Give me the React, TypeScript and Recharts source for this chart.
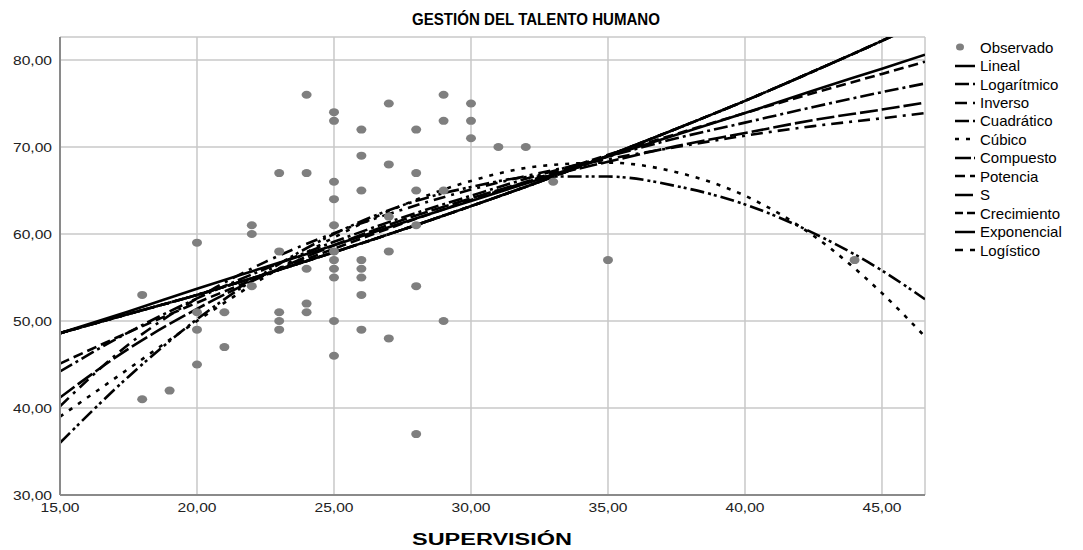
import React from "react";
import {
  ComposedChart,
  Scatter,
  Line,
  XAxis,
  YAxis,
  CartesianGrid,
} from "recharts";

// observed points (SUPERVISIÓN, GESTIÓN DEL TALENTO HUMANO)
const obsX = [
  18, 18, 19, 20, 20, 20, 20, 21, 21, 22, 22, 22,
  23, 23, 23, 23, 23, 24, 24, 24, 24, 24,
  25, 25, 25, 25, 25, 25, 25, 25, 25, 25, 25,
  26, 26, 26, 26, 26, 26, 26, 26,
  27, 27, 27, 27, 27, 28, 28, 28, 28, 28, 28,
  29, 29, 29, 29, 30, 30, 30, 31, 32, 33, 35, 44,
];
const obsY = [
  53, 41, 42, 59, 51, 49, 45, 51, 47, 61, 60, 54,
  67, 58, 51, 50, 49, 76, 67, 56, 52, 51,
  74, 73, 66, 64, 61, 58, 57, 56, 55, 50, 46,
  72, 69, 65, 57, 56, 55, 53, 49,
  75, 68, 62, 58, 48, 72, 67, 65, 61, 54, 37,
  76, 73, 65, 50, 75, 73, 71, 70, 70, 66, 57, 57,
];

// fitted curves at these x positions
const curveX = [15, 17.5, 20, 22.5, 25, 27.5, 30, 32.5, 35, 37.5, 40, 42.5, 45, 46.57];
const lineal = [48.6, 51.1, 53.7, 56.2, 58.7, 61.3, 63.8, 66.3, 68.9, 71.4, 73.9, 76.5, 79.0, 80.6];
const logaritmico = [44.2, 48.7, 52.6, 56.0, 59.1, 61.9, 64.4, 66.8, 68.9, 71.0, 72.8, 74.6, 76.3, 77.3];
const inverso = [40.2, 47.3, 52.6, 56.8, 60.1, 62.8, 65.1, 67.0, 68.6, 70.0, 71.3, 72.4, 73.3, 73.9];
const cuadratico = [36.0, 43.6, 50.2, 55.6, 60.0, 63.3, 65.4, 66.6, 66.6, 65.5, 63.4, 60.1, 55.8, 52.5];
const cubico = [39.0, 44.5, 50.0, 55.1, 59.6, 63.3, 66.1, 67.8, 68.2, 67.1, 64.4, 59.8, 53.2, 48.2];
const compuesto = [48.6, 50.8, 53.0, 55.4, 57.9, 60.5, 63.2, 66.0, 69.0, 72.1, 75.3, 78.7, 82.2, 84.5];
const potencia = [45.1, 48.7, 52.1, 55.3, 58.3, 61.2, 63.9, 66.5, 69.1, 71.5, 73.9, 76.2, 78.4, 79.8];
const sCurve = [41.2, 46.8, 51.4, 55.3, 58.7, 61.6, 64.1, 66.4, 68.3, 70.1, 71.6, 73.1, 74.3, 75.1];
const crecimiento = [48.6, 50.8, 53.0, 55.4, 57.9, 60.5, 63.2, 66.0, 69.0, 72.1, 75.3, 78.7, 82.2, 84.5];
const exponencial = [48.6, 50.8, 53.0, 55.4, 57.9, 60.5, 63.2, 66.0, 69.0, 72.1, 75.3, 78.7, 82.2, 84.5];
const logistico = [48.6, 50.8, 53.0, 55.4, 57.9, 60.5, 63.2, 66.0, 69.0, 72.1, 75.3, 78.7, 82.2, 84.5];

const xTicks = [15, 20, 25, 30, 35, 40, 45];
const yTicks = [30, 40, 50, 60, 70, 80];

const FONT = "'Liberation Sans', Arial, sans-serif";

const observado = obsX.map((x, i) => ({ x, y: obsY[i] }));
const curve = (ys: number[]) => curveX.map((x, i) => ({ x, y: ys[i] }));

const series = [
  { name: "Lineal", ys: lineal, dash: undefined },
  { name: "Logarítmico", ys: logaritmico, dash: "14 4 3 4" },
  { name: "Inverso", ys: inverso, dash: "12 6 3 6" },
  { name: "Cuadrático", ys: cuadratico, dash: "14 4 3 3 3 4" },
  { name: "Cúbico", ys: cubico, dash: "4 7" },
  { name: "Compuesto", ys: compuesto, dash: "16 3 3 3" },
  { name: "Potencia", ys: potencia, dash: "10 5" },
  { name: "S", ys: sCurve, dash: "18 4" },
  { name: "Crecimiento", ys: crecimiento, dash: "8 4 8 6 3 6" },
  { name: "Exponencial", ys: exponencial, dash: "20 3 3 3" },
  { name: "Logístico", ys: logistico, dash: "8 7" },
];

const fmt = (v: number) => v.toFixed(2).replace(".", ",");

const XTick = (props: any) => {
  const { x, y, payload } = props;
  return (
    <g transform={`translate(${x},${y})`}>
      <text transform="scale(1.2,1)" textAnchor="middle" dy="0.71em" fontSize={13} fill="#222" fontFamily={FONT}>
        {fmt(payload.value)}
      </text>
    </g>
  );
};

const YTick = (props: any) => {
  const { x, y, payload } = props;
  return (
    <g transform={`translate(${x},${y})`}>
      <text transform="scale(1.2,1)" textAnchor="end" dy="0.355em" fontSize={13} fill="#222" fontFamily={FONT}>
        {fmt(payload.value)}
      </text>
    </g>
  );
};

const Dot = (props: any) => (
  <ellipse cx={props.cx} cy={props.cy} rx={5} ry={4} fill="#7f7f7f" />
);

export default function App() {
  return (
    <div style={{ position: "absolute", left: 0, top: 0, width: 1083, height: 550, background: "#fff" }}>
      <ComposedChart
        width={1083}
        height={550}
        margin={{ top: 37, right: 158, bottom: 0, left: 0 }}
      >
        <CartesianGrid stroke="#c8c8c8" strokeWidth={1.5} />
        <XAxis
          dataKey="x"
          type="number"
          domain={[15, 46.57]}
          ticks={xTicks}
          allowDataOverflow
          height={55}
          tickLine={false}
          axisLine={{ stroke: "#8a8a8a", strokeWidth: 2 }}
          tick={<XTick />}
        />
        <YAxis
          type="number"
          domain={[30, 82.64]}
          ticks={yTicks}
          allowDataOverflow
          width={60}
          tickLine={false}
          axisLine={{ stroke: "#8a8a8a", strokeWidth: 2 }}
          tick={<YTick />}
        />
        <Scatter data={observado} dataKey="y" fill="#7f7f7f" shape={<Dot />} isAnimationActive={false} />
        {series.map((s) => (
          <Line
            key={s.name}
            data={curve(s.ys)}
            dataKey="y"
            type="monotone"
            stroke="#000"
            strokeWidth={2.6}
            strokeDasharray={s.dash}
            dot={false}
            activeDot={false}
            isAnimationActive={false}
          />
        ))}
      </ComposedChart>

      {/* title and axis label */}
      <svg width={1083} height={550} style={{ position: "absolute", left: 0, top: 0, pointerEvents: "none" }}>
        <text x={412} y={25} fontSize={16} fontWeight="bold" fontFamily={FONT} textLength={248} lengthAdjust="spacingAndGlyphs">
          GESTIÓN DEL TALENTO HUMANO
        </text>
        <text x={412} y={545} fontSize={16} fontWeight="bold" fontFamily={FONT} textLength={160} lengthAdjust="spacingAndGlyphs">
          SUPERVISIÓN
        </text>
      </svg>

      {/* legend */}
      <div style={{ position: "absolute", left: 950, top: 38, fontFamily: FONT, fontSize: 15, color: "#000" }}>
        <div style={{ display: "flex", alignItems: "center", height: 18.45 }}>
          <svg width={30} height={18}>
            <ellipse cx={10} cy={9} rx={4} ry={3.5} fill="#7f7f7f" />
          </svg>
          <span>Observado</span>
        </div>
        {series.map((s) => (
          <div key={s.name} style={{ display: "flex", alignItems: "center", height: 18.45 }}>
            <svg width={30} height={18}>
              <line x1={5} x2={25} y1={9} y2={9} stroke="#000" strokeWidth={2.5} strokeDasharray={s.dash} />
            </svg>
            <span>{s.name}</span>
          </div>
        ))}
      </div>
    </div>
  );
}
